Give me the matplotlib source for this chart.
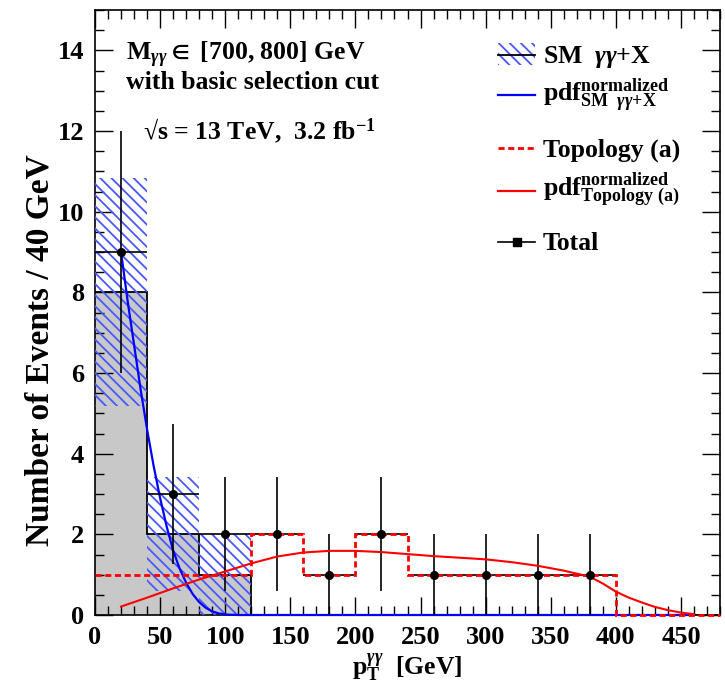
import numpy as np
import matplotlib
matplotlib.use("Agg")
import matplotlib.pyplot as plt
from matplotlib.lines import Line2D
from matplotlib.patches import Rectangle
from matplotlib.ticker import MultipleLocator

# 40 GeV bins in diphoton pT
bin_edges = [0, 40, 80, 120, 160, 200, 240, 280, 320, 360, 400, 440, 480]
bin_centers = [20, 60, 100, 140, 180, 220, 260, 300, 340, 380]

# SM gamma-gamma + X background and its statistical band
sm_counts = [8, 2, 1, 0, 0, 0, 0, 0, 0, 0, 0, 0]
sm_band_centers = [20, 60, 100]
sm_band_values = [8, 2, 1]
sm_band_errors = [2.83, 1.41, 1.0]

# Topology (a) signal
topo_counts = [1, 1, 1, 2, 1, 2, 1, 1, 1, 1, 0, 0]

# Total (SM + topology (a))
total_counts = [9, 3, 2, 2, 1, 2, 1, 1, 1, 1]
total_errors = [3.0, 1.73, 1.41, 1.41, 1.0, 1.41, 1.0, 1.0, 1.0, 1.0]

# normalized pdf of the SM background
pdf_sm_x = [20, 25, 30, 35, 40, 45, 50, 55, 60, 65, 70, 75, 80, 85, 90, 95,
            100, 105, 110, 120, 200, 300, 400, 460]
pdf_sm_y = [9.0, 7.8, 6.7, 5.6, 4.6, 3.7, 2.9, 2.2, 1.6, 1.15, 0.8, 0.52,
            0.32, 0.18, 0.09, 0.04, 0.015, 0.005, 0.0, 0.0, 0.0, 0.0, 0.0, 0.0]

# normalized pdf of topology (a)
pdf_topo_x = [20, 40, 60, 80, 100, 120, 140, 160, 180, 200, 220, 240, 260, 280,
              300, 320, 340, 360, 380, 390, 400, 410, 420, 430, 440, 450, 460]
pdf_topo_y = [0.21, 0.43, 0.66, 0.88, 1.08, 1.28, 1.45, 1.55, 1.59, 1.59, 1.56,
              1.51, 1.46, 1.42, 1.38, 1.31, 1.22, 1.10, 0.95, 0.78, 0.58, 0.43,
              0.31, 0.20, 0.12, 0.06, 0.02]

x_ticks = [0, 50, 100, 150, 200, 250, 300, 350, 400, 450]
y_ticks = [0, 2, 4, 6, 8, 10, 12, 14]

plt.rcParams.update({
    "font.family": ["Liberation Serif", "DejaVu Serif"],
    "font.weight": "bold",
    "axes.labelweight": "bold",
    "mathtext.fontset": "custom",
    "mathtext.rm": "Liberation Serif:bold",
    "mathtext.it": "Liberation Serif:italic:bold",
    "mathtext.bf": "Liberation Serif:bold",
    "mathtext.fallback": "stix",
    "hatch.linewidth": 1.3,
})

HATCH_BLUE = "#4858ff"
HATCH = "\\\\\\"
GRAY = "#c8c8c8"
BLUE = "#0000ff"
RED = "#ff0000"
FS = 18.5

fig = plt.figure(figsize=(7.25, 6.93), dpi=100)
ax = fig.add_axes([95 / 725, 78 / 693, 625 / 725, 605 / 693])

# SM histogram: gray fill with black outline
ax.stairs(sm_counts, bin_edges, fill=True, color=GRAY, zorder=1)
ax.stairs(sm_counts, bin_edges, color="black", lw=1.3, baseline=None, zorder=2)

# hatched statistical band
band_lo = np.array(sm_band_values) - np.array(sm_band_errors)
ax.bar(sm_band_centers, 2 * np.array(sm_band_errors), bottom=band_lo, width=40,
       fill=False, hatch=HATCH, edgecolor=HATCH_BLUE, linewidth=0, zorder=3)

# SM pdf
ax.plot(pdf_sm_x, pdf_sm_y, color=BLUE, lw=1.6, zorder=4, clip_on=False)

# total x/y error bars (markers drawn on top later)
ax.errorbar(bin_centers, total_counts, yerr=total_errors, xerr=20, fmt="none",
            ecolor="black", elinewidth=1.2, capsize=0, zorder=4.5)

# topology (a) histogram
ax.stairs(topo_counts, bin_edges, color=RED, lw=2.0, ls=(0, (2.2, 1.3)),
          baseline=None, zorder=5, clip_on=False)

# topology (a) pdf
ax.plot(pdf_topo_x, pdf_topo_y, color=RED, lw=1.5, zorder=5.5)

# total markers
ax.plot(bin_centers, total_counts, "o", color="black", ms=5.5, zorder=7)

ax.set_xlim(0, 480)
ax.set_ylim(0, 15)
ax.set_xticks(x_ticks)
ax.set_yticks(y_ticks)
ax.xaxis.set_minor_locator(MultipleLocator(10))
ax.yaxis.set_minor_locator(MultipleLocator(0.5))
ax.tick_params(which="both", direction="in", top=True, right=True, width=1.0,
               labelsize=19, pad=8)
ax.tick_params(which="major", length=13)
ax.tick_params(which="minor", length=6.5)
for sp in ax.spines.values():
    sp.set_linewidth(1.2)

ax.set_xlabel(r"p$_{\mathrm{T}}^{\gamma\gamma}$  [GeV]", fontsize=FS)
ax.xaxis.set_label_coords(0.5, -0.088)
ax.xaxis.label.set_verticalalignment("center")
ax.set_ylabel("Number of Events / 40 GeV", fontsize=24)
ax.yaxis.set_label_coords(-0.088, 0.438)
ax.yaxis.label.set_verticalalignment("center")

# selection info
tr = ax.transAxes
ax.text(0.0496, 0.9174, r"M$_{\gamma\gamma}$$\in$ [700, 800] GeV",
        transform=tr, fontsize=FS, va="baseline")
ax.text(0.0496, 0.8694, "with basic selection cut", transform=tr,
        fontsize=FS, va="baseline")
ax.text(0.0768, 0.785, "\u221as = 13 TeV,  3.2 fb$^{\\mathrm{-1}}$",
        transform=tr, fontsize=FS, va="baseline")

# legend
lx0, lx1, tx = 0.6448, 0.704, 0.7168
ax.add_patch(Rectangle((lx0, 0.9091), lx1 - lx0, 0.0364, transform=tr,
                       fill=False, hatch=HATCH, edgecolor=HATCH_BLUE, lw=0))
ax.add_line(Line2D([lx0, lx1], [0.9256] * 2, transform=tr, color="black", lw=1.3))
ax.text(tx, 0.9124, r"SM  $\gamma\gamma$+X", transform=tr, fontsize=FS, va="baseline")

ax.add_line(Line2D([lx0, lx1], [0.8595] * 2, transform=tr, color=BLUE, lw=1.6))
ax.text(tx, 0.848,
        r"pdf$^{\mathrm{normalized}}_{\mathrm{SM\ \ }\gamma\gamma\mathrm{+X}}$",
        transform=tr, fontsize=FS, va="baseline")

ax.add_line(Line2D([lx0, lx1], [0.772] * 2, transform=tr, color=RED, lw=2.0,
                   ls=(0, (2.2, 1.3))))
ax.text(tx, 0.757, "Topology (a)", transform=tr, fontsize=FS, va="baseline")

ax.add_line(Line2D([lx0, lx1], [0.7008] * 2, transform=tr, color=RED, lw=1.6))
ax.text(tx, 0.691,
        r"pdf$^{\mathrm{normalized}}_{\mathrm{Topology\ (a)}}$",
        transform=tr, fontsize=FS, va="baseline")

ax.add_line(Line2D([lx0, lx1], [0.6165] * 2, transform=tr, color="black", lw=1.2))
ax.add_line(Line2D([(lx0 + lx1) / 2], [0.6165], transform=tr, color="black",
                   marker="s", ms=6, ls="none"))
ax.text(tx, 0.6033, "Total", transform=tr, fontsize=FS, va="baseline")

fig.savefig("out.png", dpi=100)
